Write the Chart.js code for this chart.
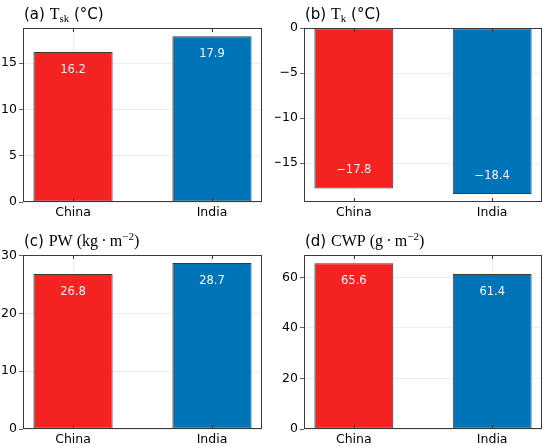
<!DOCTYPE html>
<html>
<head>
<meta charset="utf-8">
<script src="https://cdn.jsdelivr.net/npm/chart.js@4"></script>
<style>
  html, body { margin: 0; padding: 0; background: #fff; }
  #wrap { position: relative; width: 550px; height: 448px; }
  .panel { position: absolute; width: 275px; height: 224px; }
</style>
</head>
<body>
<div id="wrap">
  <div class="panel" style="left:0;top:0"><canvas id="chart-a"></canvas></div>
  <div class="panel" style="left:275px;top:0"><canvas id="chart-b"></canvas></div>
  <div class="panel" style="left:0;top:224px"><canvas id="chart-c"></canvas></div>
  <div class="panel" style="left:275px;top:224px"><canvas id="chart-d"></canvas></div>
</div>
<script>
const categories = ["China", "India"];

const tskValues = [16.2, 17.9];
const tkValues = [-17.8, -18.4];
const pwValues = [26.8, 28.7];
const cwpValues = [65.6, 61.4];

const tskTicks = [0, 5, 10, 15];
const tkTicks = [-15, -10, -5, 0];
const pwTicks = [0, 10, 20, 30];
const cwpTicks = [0, 20, 40, 60];

const tskRange = [0, 18.8];
const tkRange = [-19.3, 0];
const pwRange = [0, 30.1];
const cwpRange = [0, 68.9];

const barColors = ["#f52222", "#0074b8"];
const edgeColor = "#3a3a3a";
const SANS = "'DejaVu Sans', sans-serif";
const SERIF = "'Liberation Serif', serif";

Chart.defaults.font.family = SANS;
Chart.defaults.font.size = 12;
Chart.defaults.color = "#000";

function minus(s) {
  return String(s).replace("-", "\u2212");
}

// frame, inward x ticks, value labels and mixed-font title
const panelDecor = {
  id: "panelDecor",
  afterDatasetsDraw(chart) {
    const ctx = chart.ctx;
    const meta = chart.getDatasetMeta(0);
    const vals = chart.data.datasets[0].data;
    ctx.save();
    ctx.font = "11.5px " + SANS;
    ctx.fillStyle = "#f6f6f6";
    ctx.textAlign = "center";
    ctx.textBaseline = "middle";
    meta.data.forEach((el, i) => {
      const v = vals[i].y;
      const y = v >= 0 ? el.y + 18 : el.y - 18;
      ctx.fillText(minus(v.toFixed(1)), el.x, y);
    });
    ctx.restore();
  },
  afterDraw(chart, args, opts) {
    const ctx = chart.ctx;
    const a = chart.chartArea;
    const xs = chart.scales.x;
    ctx.save();
    ctx.strokeStyle = edgeColor;
    ctx.lineWidth = 1;
    ctx.strokeRect(Math.round(a.left) + 0.5, Math.round(a.top) + 0.5,
      Math.round(a.right - a.left) - 1, Math.round(a.bottom - a.top) - 1);
    xs.ticks.forEach((t) => {
      const px = Math.round(xs.getPixelForValue(t.value)) + 0.5;
      ctx.beginPath();
      ctx.moveTo(px, a.top);
      ctx.lineTo(px, a.top + 4);
      ctx.moveTo(px, a.bottom);
      ctx.lineTo(px, a.bottom - 4);
      ctx.stroke();
    });
    // title
    let x = a.left + 1;
    const base = a.top - 9;
    ctx.fillStyle = "#000";
    ctx.textBaseline = "alphabetic";
    ctx.textAlign = "left";
    opts.runs.forEach((r) => {
      ctx.font = r.size + "px " + (r.serif ? SERIF : SANS);
      ctx.fillText(r.t, x, base + (r.dy || 0));
      x += ctx.measureText(r.t).width;
    });
    ctx.restore();
  }
};

function makePanel(id, values, ticks, range, runs, box) {
  return new Chart(document.getElementById(id), {
    type: "bar",
    data: {
      datasets: [{
        data: values.map((v, i) => ({ x: i, y: v })),
        backgroundColor: barColors,
        borderColor: edgeColor,
        borderWidth: 1,
        borderSkipped: false,
        barPercentage: 1,
        categoryPercentage: 0.57
      }]
    },
    options: {
      responsive: true,
      maintainAspectRatio: false,
      animation: false,
      layout: { padding: { top: box.top, right: box.right, left: 0, bottom: 0 } },
      plugins: {
        legend: { display: false },
        tooltip: { enabled: false },
        panelDecor: { runs: runs }
      },
      scales: {
        x: {
          type: "linear",
          offset: false,
          min: -0.36,
          max: 1.36,
          afterBuildTicks: (axis) => { axis.ticks = categories.map((c, i) => ({ value: i })); },
          afterFit: (axis) => { axis.height = box.bottom; },
          ticks: {
            padding: 3,
            callback: (v) => categories[v],
            font: { size: 12.5 }
          },
          grid: { offset: false, color: "rgba(0,0,0,0.09)", lineWidth: 0.8, drawTicks: false },
          border: { display: false }
        },
        y: {
          min: range[0],
          max: range[1],
          afterBuildTicks: (axis) => { axis.ticks = ticks.map((v) => ({ value: v })); },
          afterFit: (axis) => { axis.width = box.left; },
          ticks: {
            padding: 2,
            callback: (v) => minus(v),
            font: { size: 12.5 }
          },
          grid: { color: "rgba(0,0,0,0.09)", lineWidth: 0.8, tickColor: edgeColor, tickLength: 4 },
          border: { display: false }
        }
      }
    },
    plugins: [panelDecor]
  });
}

makePanel("chart-a", tskValues, tskTicks, tskRange, [
  { t: "(a) ", size: 15 },
  { t: "T", size: 16, serif: true },
  { t: "sk", size: 11, serif: true, dy: 3 },
  { t: " (°C)", size: 15 }
], { left: 23, top: 28, right: 13, bottom: 22 });

makePanel("chart-b", tkValues, tkTicks, tkRange, [
  { t: "(b) ", size: 15 },
  { t: "T", size: 16, serif: true },
  { t: "k", size: 11, serif: true, dy: 3 },
  { t: " (°C)", size: 15 }
], { left: 29, top: 28, right: 8, bottom: 22 });

makePanel("chart-c", pwValues, pwTicks, pwRange, [
  { t: "(c) ", size: 15 },
  { t: "PW (kg\u2009\u00b7\u2009m", size: 16, serif: true },
  { t: "\u22122", size: 11, serif: true, dy: -6 },
  { t: ")", size: 16, serif: true }
], { left: 23, top: 31, right: 13, bottom: 19 });

makePanel("chart-d", cwpValues, cwpTicks, cwpRange, [
  { t: "(d) ", size: 15 },
  { t: "CWP (g\u2009\u00b7\u2009m", size: 16, serif: true },
  { t: "\u22122", size: 11, serif: true, dy: -6 },
  { t: ")", size: 16, serif: true }
], { left: 29, top: 31, right: 8, bottom: 19 });
</script>
</body>
</html>
